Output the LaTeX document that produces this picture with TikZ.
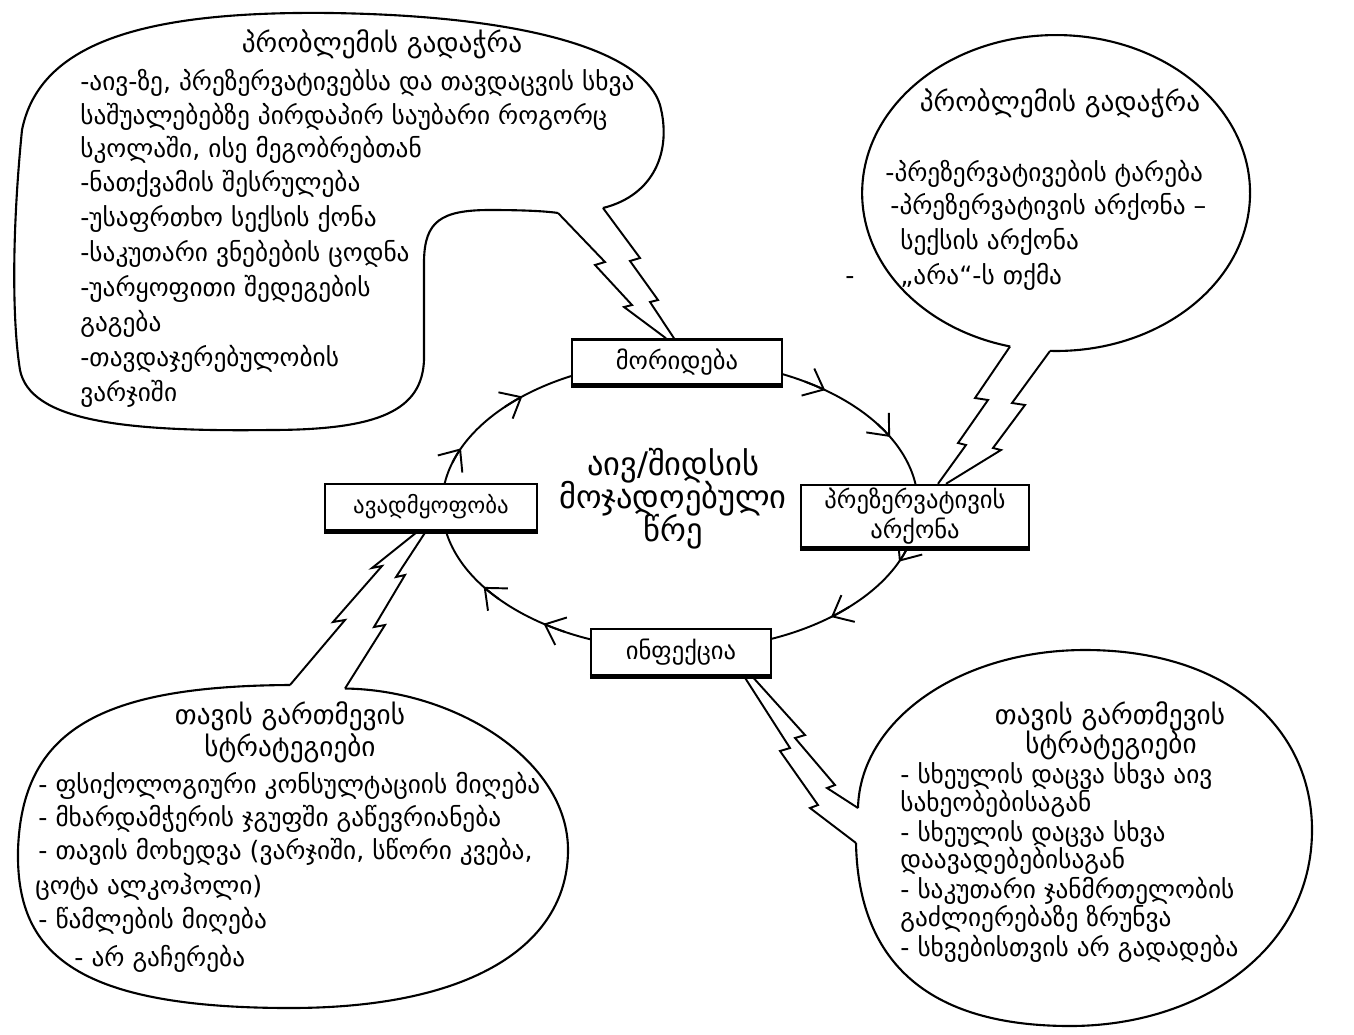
\documentclass[tikz,border=0pt]{standalone}
\usepackage{fontspec}
\setmainfont{DejaVu Sans}
\usetikzlibrary{arrows.meta,calc}
\tikzset{
  bubble/.style={line width=1.2pt, line join=round},
  txt/.style={font=\fontsize{14.4}{16}\selectfont, anchor=base west, inner sep=0pt},
  ttl/.style={font=\fontsize{15.5}{17}\selectfont, anchor=base, inner sep=0pt},
  ctr/.style={font=\fontsize{18.5}{20}\selectfont, anchor=base, inner sep=0pt},
  cbox/.style={draw, line width=1.4pt, fill=white, inner sep=0pt, align=center,
     font=\fontsize{14}{17}\selectfont},
  cyc/.style={line width=1.1pt},
  tip/.style={line width=1.1pt, -{Straight Barb[length=10pt,width=17pt]}},
  boltline/.style={line width=1.1pt, line join=miter}
}
\begin{document}
\begin{tikzpicture}[x=0.02cm,y=0.02cm]
\useasboundingbox (0,0) rectangle (1354,-1034);
\fill[white] (0,0) rectangle (1354,-1034);

% ---------- cycle ----------
\coordinate (C) at (680,-505);
\draw[cyc] (C) ellipse [x radius=4.76cm, y radius=2.9cm];
\foreach \t in {52.4,28,-23,-50.6,-125,-145.6,157,131.5}{
  \draw[tip] ($(C)+({\t+6}:4.76cm and 2.9cm)$) arc[start angle={\t+6}, end angle=\t, x radius=4.76cm, y radius=2.9cm];
}
\node[cbox, minimum width=4.2cm, minimum height=0.9cm] (b1) at (677,-362) {მორიდება};
\node[cbox, minimum width=4.56cm, minimum height=1.24cm] (b2) at (915,-516) {პრეზერვატივის\\არქონა};
\node[cbox, minimum width=3.6cm, minimum height=0.92cm] (b3) at (681,-652) {ინფექცია};
\node[cbox, minimum width=4.24cm, minimum height=0.92cm, font=\fontsize{13}{15}\selectfont] (b4) at (431,-507) {ავადმყოფობა};
\foreach \b in {b1,b2,b3,b4}{
  \draw[line width=2.8pt] (\b.south west) -- (\b.south east);
}
\node[ctr] (c1) at (673,-475) {აივ/შიდსის};
\node[ctr] (c2) at (673,-508) {მოჯადოებული};
\node[ctr] (c3) at (673,-541) {წრე};

% ---------- top-left bubble ----------
\draw[bubble] (603,-208) .. controls (655,-195) and (672,-150) .. (660,-105)
  .. controls (645,-55) and (540,-16) .. (330,-13)
  .. controls (150,-11) and (40,-40) .. (22,-130)
  .. controls (12,-230) and (12,-320) .. (20,-370)
  .. controls (30,-420) and (120,-432) .. (270,-430)
  .. controls (380,-430) and (422,-410) .. (424,-360)
  -- (424,-260)
  .. controls (425,-222) and (440,-210) .. (490,-210)
  .. controls (520,-210) and (545,-211) .. (558,-213);
\draw[boltline] (603,-208) -- (640,-258) -- (630,-261) -- (658,-300) -- (650,-302) -- ($(b1.north)+(-3,0)$);
\draw[boltline] (558,-213) -- (605,-262) -- (595,-265) -- (632,-305) -- (624,-307) -- ($(b1.north)+(-11,0)$);

\node[ttl] (tlt) at (382,-53) {პრობლემის გადაჭრა};
\node[txt] (tl1) at (80,-91) {-აივ-ზე, პრეზერვატივებსა და თავდაცვის სხვა};
\node[txt] (tl2) at (80,-124) {საშუალებებზე პირდაპირ საუბარი როგორც};
\node[txt] (tl3) at (80,-157) {სკოლაში, ისე მეგობრებთან};
\node[txt] (tl4) at (80,-191) {-ნათქვამის შესრულება};
\node[txt] (tl5) at (80,-226) {-უსაფრთხო სექსის ქონა};
\node[txt] (tl6) at (80,-261) {-საკუთარი ვნებების ცოდნა};
\node[txt] (tl7) at (80,-296) {-უარყოფითი შედეგების};
\node[txt] (tl8) at (80,-331) {გაგება};
\node[txt] (tl9) at (80,-366) {-თავდაჯერებულობის};
\node[txt] (tl10) at (80,-401) {ვარჯიში};

% ---------- top-right bubble ----------
\draw[bubble] (1050,-350.9) arc[start angle=-91.8, end angle=256.3, x radius=3.88cm, y radius=3.16cm];
\draw[boltline] (1010,-346.5) -- (975,-398) -- (988,-400) -- (958,-443) -- (966,-445) -- ($(b2.north)+(23,0)$);
\draw[boltline] (1050,-351) -- (1012,-403) -- (1025,-405) -- (993,-448) -- (1001,-450) -- ($(b2.north)+(31,0)$);
\node[ttl] (trt) at (1060,-112) {პრობლემის გადაჭრა};
\node[txt] (tr1) at (885,-181) {-პრეზერვატივების ტარება};
\node[txt] (tr2) at (890,-214) {-პრეზერვატივის არქონა –};
\node[txt] (tr3) at (900,-249) {სექსის არქონა};
\node[txt] (tr4) at (900,-284) {„არა“-ს თქმა};
\node[txt] (trd) at (845,-284) {-};

% ---------- bottom-left bubble ----------
\draw[bubble] (290,-685) .. controls (100,-686) and (22,-730) .. (18,-850)
  .. controls (16,-950) and (70,-1008) .. (290,-1008)
  .. controls (480,-1008) and (568,-940) .. (568,-850)
  .. controls (568,-760) and (455,-690) .. (345,-688.5);
\draw[boltline] (290,-685) -- (345,-620) -- (333,-622) -- (382,-566) -- (372,-568) -- ($(b4.south)+(-13,0)$);
\draw[boltline] (345,-688.5) -- (385,-625) -- (374,-627) -- (405,-575) -- (396,-577) -- ($(b4.south)+(-5,0)$);
\node[ttl] (blt1) at (290,-724) {თავის გართმევის};
\node[ttl] (blt2) at (290,-756) {სტრატეგიები};
\node[txt] (bl1) at (38,-793) {- ფსიქოლოგიური კონსულტაციის მიღება};
\node[txt] (bl2) at (38,-826) {- მხარდამჭერის ჯგუფში გაწევრიანება};
\node[txt] (bl3) at (38,-859) {- თავის მოხედვა (ვარჯიში, სწორი კვება,};
\node[txt] (bl4) at (35,-894) {ცოტა ალკოჰოლი)};
\node[txt] (bl5) at (38,-928) {- წამლების მიღება};
\node[txt] (bl6) at (74,-966) {- არ გაჩერება};

% ---------- bottom-right bubble ----------
\draw[bubble] (858,-808) .. controls (860,-720) and (960,-650) .. (1085,-650)
  .. controls (1230,-650) and (1312,-730) .. (1312,-830)
  .. controls (1312,-950) and (1200,-1026) .. (1070,-1026)
  .. controls (915,-1026) and (858,-950) .. (856,-843);
\draw[boltline] (858,-808) -- (827,-788) -- (835,-785) -- (795,-738) -- (805,-735) -- ($(b3.south)+(71,0)$);
\draw[boltline] (856,-843) -- (810,-808) -- (818,-805) -- (780,-751) -- (790,-748) -- ($(b3.south)+(63,0)$);
\node[ttl] (brt1) at (1110,-724) {თავის გართმევის};
\node[ttl] (brt2) at (1111,-753) {სტრატეგიები};
\node[txt] (br1) at (900,-783) {- სხეულის დაცვა სხვა აივ};
\node[txt] (br2) at (900,-811) {სახეობებისაგან};
\node[txt] (br3) at (900,-841) {- სხეულის დაცვა სხვა};
\node[txt] (br4) at (900,-868) {დაავადებებისაგან};
\node[txt] (br5) at (900,-898) {- საკუთარი ჯანმრთელობის};
\node[txt] (br6) at (900,-926) {გაძლიერებაზე ზრუნვა};
\node[txt] (br7) at (900,-956) {- სხვებისთვის არ გადადება};
\end{tikzpicture}
\end{document}
